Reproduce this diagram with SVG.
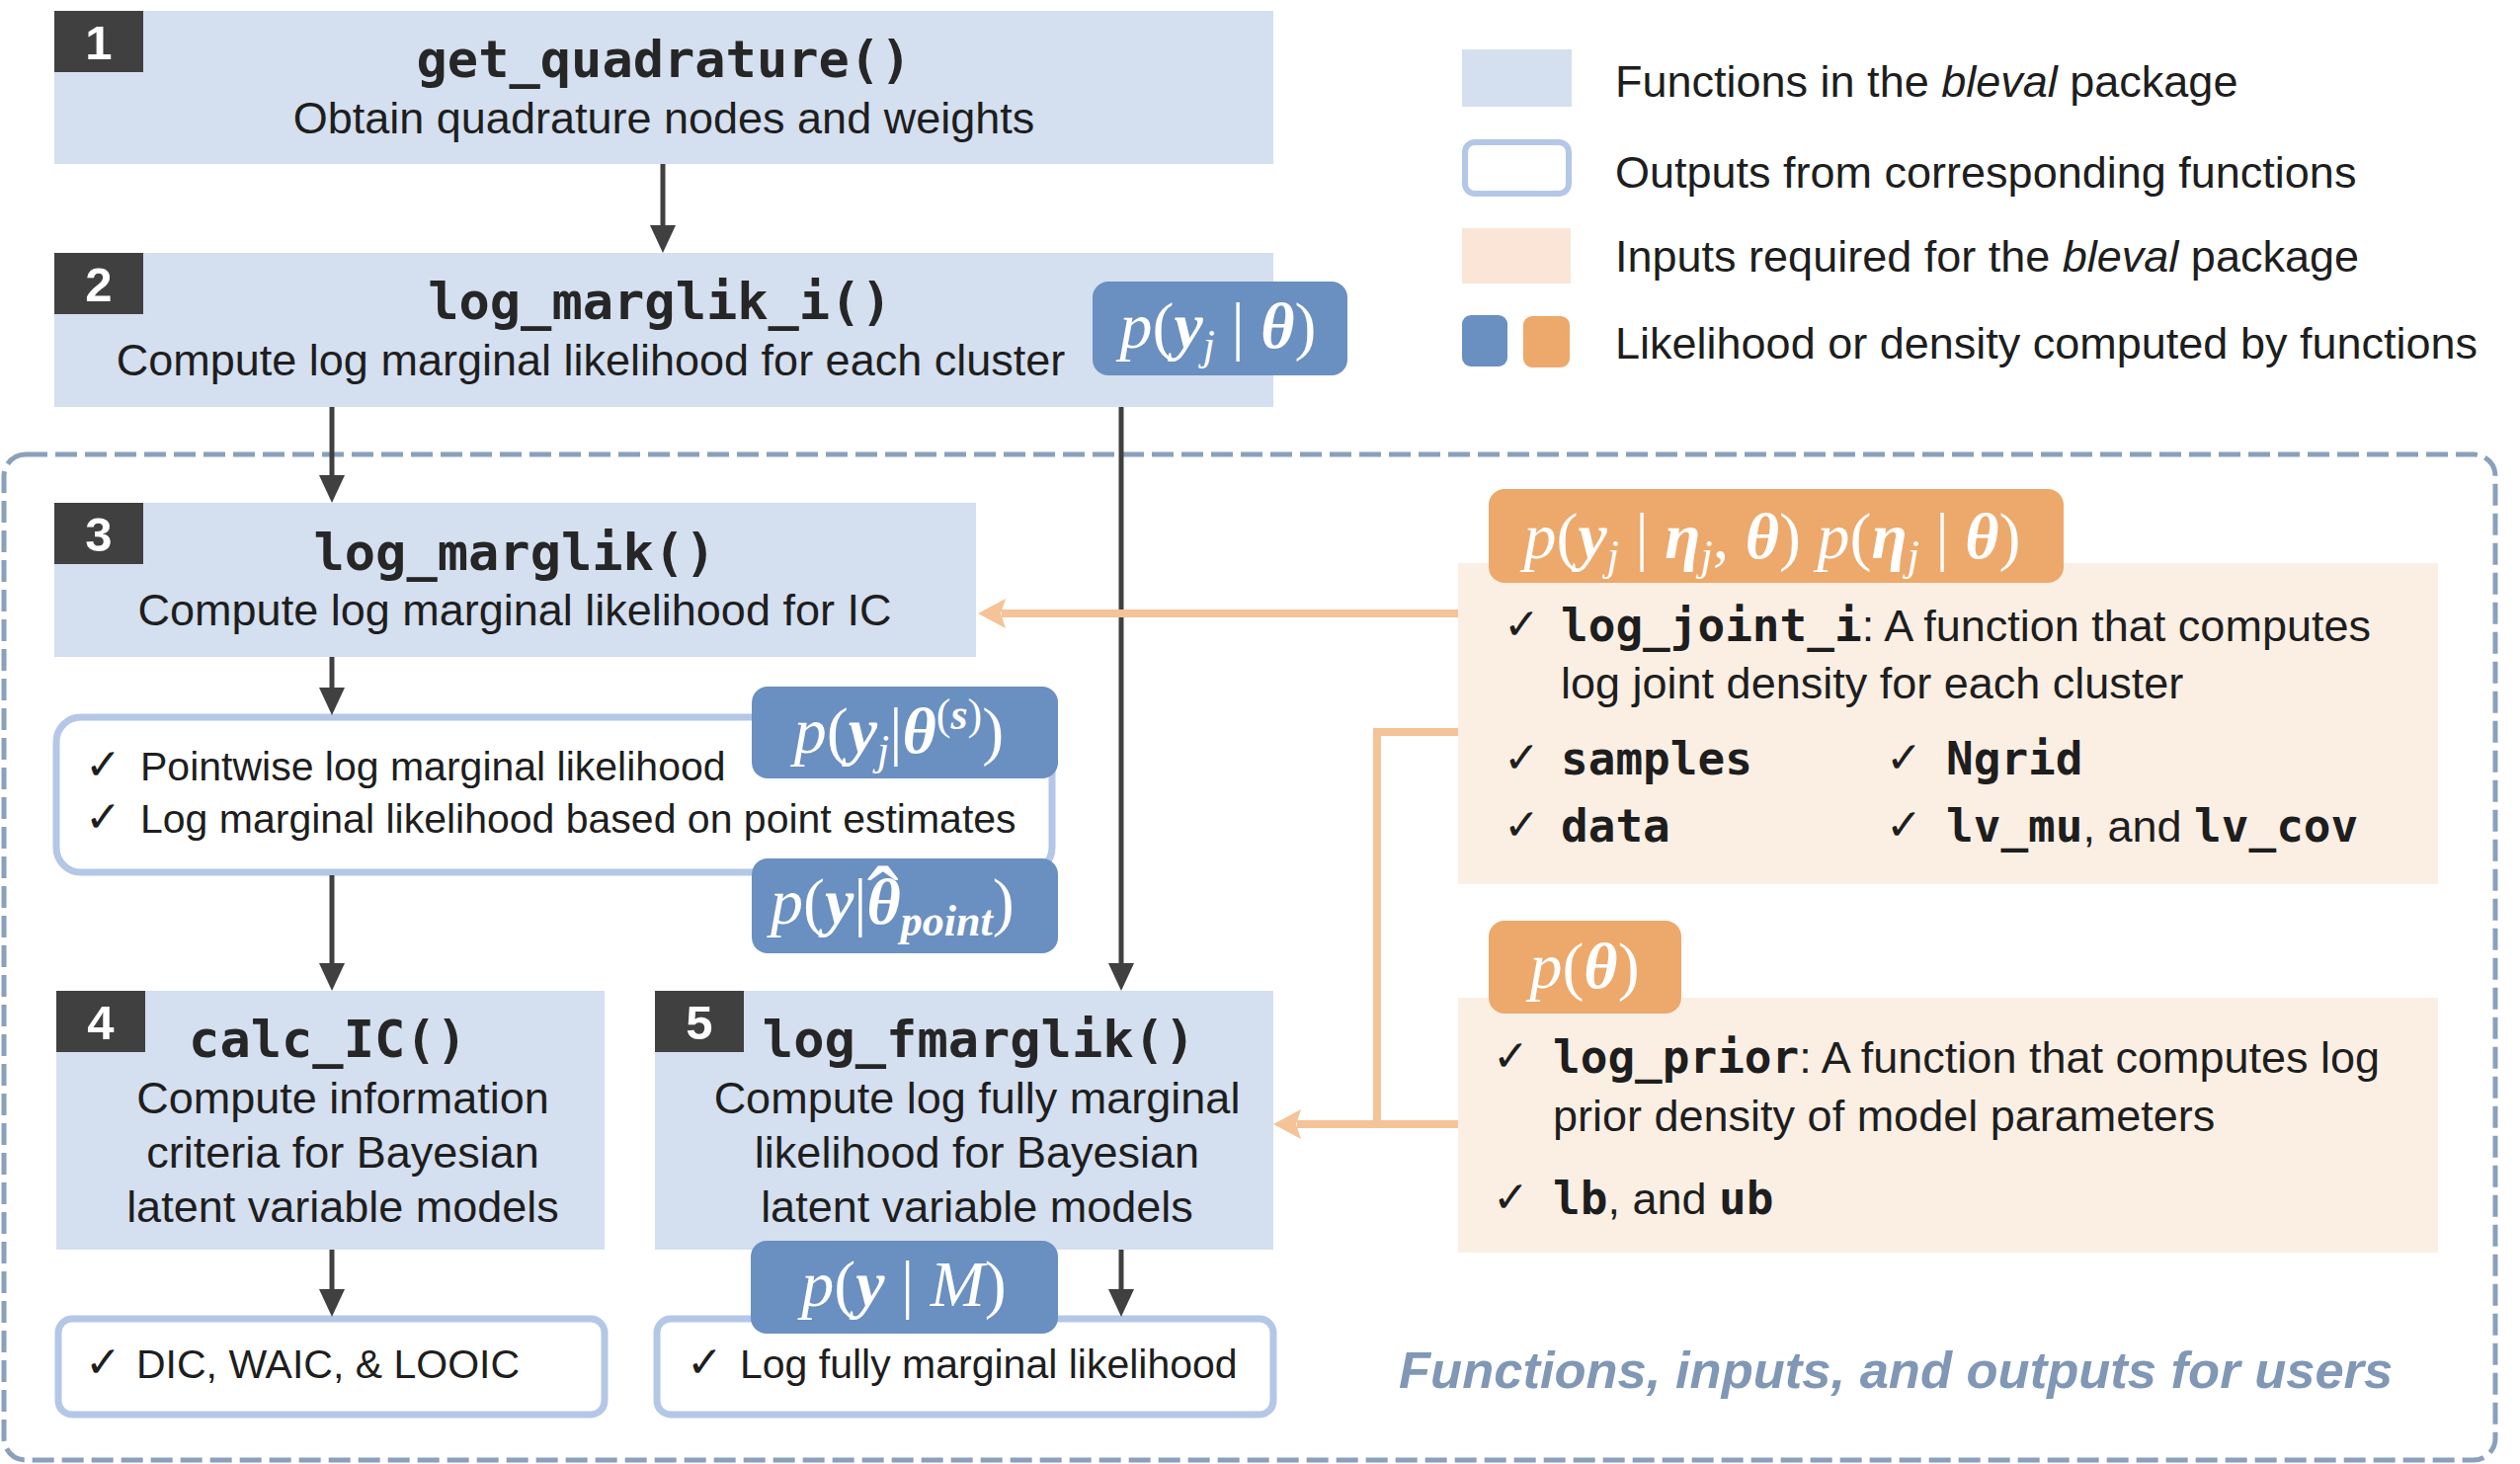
<svg xmlns="http://www.w3.org/2000/svg" width="2551" height="1482" viewBox="0 0 2551 1482">
<style>
.box{fill:#d4dfef}
.badge{fill:#404040}
.num{font-family:"Liberation Sans",Arial,sans-serif;font-weight:bold;font-size:49px;fill:#fff;text-anchor:middle}
.title{font-family:"DejaVu Sans Mono",monospace;font-weight:bold;font-size:52px;fill:#262626;text-anchor:middle}
.body{font-family:"Liberation Sans",Arial,sans-serif;font-size:45px;fill:#1e1e1e}
.small{font-size:41px}
.mid{text-anchor:middle}
.mono{font-family:"DejaVu Sans Mono",monospace;font-weight:bold;font-size:46px}
.ck{font-family:"DejaVu Sans",sans-serif;font-size:44px;fill:#1e1e1e}
.out{fill:#fff;stroke:#b4c7e7;stroke-width:7}
.bl{fill:#6a8fc1}
.or{fill:#eca96b}
.peach{fill:#fbefe4}
.math{font-family:"Liberation Serif","DejaVu Serif",serif;font-style:italic;font-size:66px;fill:#fff}
.bv{font-weight:bold}
.up{font-style:normal}
.sub{font-size:44px}
.hat{font-size:96px}
.conn{stroke:#404040;stroke-width:5;fill:none}
.oconn{stroke:#f4c398;stroke-width:8;fill:none}
.note{font-family:"Liberation Sans",Arial,sans-serif;font-style:italic;font-weight:bold;font-size:52.5px;fill:#8097b6}
</style>
<defs>
<marker id="ah" markerUnits="userSpaceOnUse" markerWidth="28" markerHeight="26" refX="4" refY="13" orient="auto">
<path d="M0,0 L28,13 L0,26 z" fill="#404040"/>
</marker>
<marker id="oh" markerUnits="userSpaceOnUse" markerWidth="28" markerHeight="30" refX="4" refY="15" orient="auto">
<path d="M0,0 L28,15 L0,30 L5,15 z" fill="#f4c398"/>
</marker>
</defs>
<rect width="2551" height="1482" fill="#fff"/>

<!-- users container -->
<g id="users-area">
<rect x="4" y="460" width="2522" height="1018" rx="22" fill="none" stroke="#8aa0bc" stroke-width="5" stroke-dasharray="22 8"/>
<text class="note" x="1416" y="1405">Functions, inputs, and outputs for users</text>
</g>

<!-- legend -->
<g id="legend">
<rect x="1480" y="50" width="111" height="58" class="box"/>
<text class="body" x="1635" y="98">Functions in the <tspan font-style="italic">bleval</tspan> package</text>
<rect x="1483" y="144" width="105" height="52" rx="10" fill="#fff" stroke="#b4c7e7" stroke-width="6"/>
<text class="body" x="1635" y="190">Outputs from corresponding functions</text>
<rect x="1480" y="231" width="110" height="56" fill="#fbe5d6"/>
<text class="body" x="1635" y="275">Inputs required for the <tspan font-style="italic">bleval</tspan> package</text>
<rect x="1480" y="319" width="46" height="52" rx="9" class="bl"/>
<rect x="1542" y="320" width="47" height="52" rx="9" class="or"/>
<text class="body" x="1635" y="363">Likelihood or density computed by functions</text>
</g>

<!-- function nodes -->
<g id="node1">
<rect x="55" y="11" width="1234" height="155" class="box"/>
<rect x="55" y="11" width="90" height="62" class="badge"/>
<text class="num" x="100" y="60">1</text>
<text class="title" x="672" y="78">get_quadrature()</text>
<text class="body mid" x="672" y="135">Obtain quadrature nodes and weights</text>
</g>

<g id="node2">
<rect x="55" y="256" width="1234" height="156" class="box"/>
<rect x="55" y="256" width="90" height="62" class="badge"/>
<text class="num" x="100" y="305">2</text>
<text class="title" x="668" y="323">log_marglik_i()</text>
<text class="body mid" x="598" y="380">Compute log marginal likelihood for each cluster</text>
</g>

<g id="node3">
<rect x="55" y="509" width="933" height="156" class="box"/>
<rect x="55" y="509" width="90" height="62" class="badge"/>
<text class="num" x="100" y="558">3</text>
<text class="title" x="521" y="577">log_marglik()</text>
<text class="body mid" x="521" y="633">Compute log marginal likelihood for IC</text>
</g>

<g id="node4">
<rect x="57" y="1003" width="555" height="262" class="box"/>
<rect x="57" y="1003" width="90" height="62" class="badge"/>
<text class="num" x="102" y="1052">4</text>
<text class="title" x="332" y="1070">calc_IC()</text>
<text class="body mid" x="347" y="1127">Compute information</text>
<text class="body mid" x="347" y="1182">criteria for Bayesian</text>
<text class="body mid" x="347" y="1237">latent variable models</text>
</g>

<g id="node5">
<rect x="663" y="1003" width="626" height="262" class="box"/>
<rect x="663" y="1003" width="90" height="62" class="badge"/>
<text class="num" x="708" y="1052">5</text>
<text class="title" x="991" y="1070">log_fmarglik()</text>
<text class="body mid" x="989" y="1127">Compute log fully marginal</text>
<text class="body mid" x="989" y="1182">likelihood for Bayesian</text>
<text class="body mid" x="989" y="1237">latent variable models</text>
</g>

<!-- output nodes -->
<g id="output3">
<rect x="57" y="726" width="1008" height="157" rx="25" class="out"/>
<text class="ck" x="86" y="789">✓</text>
<text class="body small" x="142" y="790">Pointwise log marginal likelihood</text>
<text class="ck" x="86" y="842">✓</text>
<text class="body small" x="142" y="843">Log marginal likelihood based on point estimates</text>
</g>

<g id="output4">
<rect x="59" y="1335" width="553" height="97" rx="14" class="out"/>
<text class="ck" x="86" y="1394">✓</text>
<text class="body small" x="138" y="1395">DIC, WAIC, &amp; LOOIC</text>
</g>

<g id="output5">
<rect x="665" y="1335" width="624" height="97" rx="14" class="out"/>
<text class="ck" x="695" y="1394">✓</text>
<text class="body small" x="749" y="1395">Log fully marginal likelihood</text>
</g>

<!-- input panels -->
<g id="input-joint">
<rect x="1476" y="570" width="992" height="325" class="peach"/>
<text class="ck" x="1522" y="647">✓</text>
<text class="body" x="1580" y="649"><tspan class="mono">log_joint_i</tspan>: A function that computes</text>
<text class="body" x="1580" y="707">log joint density for each cluster</text>
<text class="ck" x="1522" y="782">✓</text>
<text class="body" x="1580" y="784"><tspan class="mono">samples</tspan></text>
<text class="ck" x="1909" y="782">✓</text>
<text class="body" x="1970" y="784"><tspan class="mono">Ngrid</tspan></text>
<text class="ck" x="1522" y="850">✓</text>
<text class="body" x="1580" y="852"><tspan class="mono">data</tspan></text>
<text class="ck" x="1909" y="850">✓</text>
<text class="body" x="1970" y="852"><tspan class="mono">lv_mu</tspan>, and <tspan class="mono">lv_cov</tspan></text>
</g>

<g id="input-prior">
<rect x="1476" y="1010" width="992" height="258" class="peach"/>
<text class="ck" x="1511" y="1084">✓</text>
<text class="body" x="1572" y="1086"><tspan class="mono">log_prior</tspan>: A function that computes log</text>
<text class="body" x="1572" y="1145">prior density of model parameters</text>
<text class="ck" x="1511" y="1227">✓</text>
<text class="body" x="1572" y="1229"><tspan class="mono">lb</tspan>, and <tspan class="mono">ub</tspan></text>
</g>

<!-- connectors -->
<g id="connectors">
<line class="conn" x1="671" y1="166" x2="671" y2="232" marker-end="url(#ah)"/>
<line class="conn" x1="336" y1="412" x2="336" y2="485" marker-end="url(#ah)"/>
<line class="conn" x1="1135" y1="412" x2="1135" y2="979" marker-end="url(#ah)"/>
<line class="conn" x1="336" y1="665" x2="336" y2="700" marker-end="url(#ah)"/>
<line class="conn" x1="336" y1="886" x2="336" y2="979" marker-end="url(#ah)"/>
<line class="conn" x1="336" y1="1265" x2="336" y2="1309" marker-end="url(#ah)"/>
<line class="conn" x1="1135" y1="1265" x2="1135" y2="1309" marker-end="url(#ah)"/>
<line class="oconn" x1="1476" y1="621" x2="1014" y2="621" marker-end="url(#oh)"/>
<path class="oconn" d="M1476,741 H1394 V1138"/>
<line class="oconn" x1="1476" y1="1138" x2="1313" y2="1138" marker-end="url(#oh)"/>
</g>

<!-- likelihood / density badges -->
<g id="badge-lik-i">
<rect x="1106" y="285" width="258" height="95" rx="16" class="bl"/>
<text class="math mid" x="1233" y="352"><tspan>p</tspan><tspan class="up">(</tspan><tspan class="bv">y</tspan><tspan class="sub" dy="12">j</tspan><tspan class="up" dy="-12"> | </tspan><tspan class="bv">θ</tspan><tspan class="up">)</tspan></text>
</g>

<g id="badge-lik-s">
<rect x="761" y="695" width="310" height="93" rx="16" class="bl"/>
<text class="math mid" x="910" y="762"><tspan>p</tspan><tspan class="up">(</tspan><tspan class="bv">y</tspan><tspan class="sub" dy="12">j</tspan><tspan class="up" dy="-12">|</tspan><tspan class="bv">θ</tspan><tspan class="sub up" dy="-24">(</tspan><tspan class="sub bv">s</tspan><tspan class="sub up">)</tspan><tspan class="up" dy="24">)</tspan></text>
</g>

<g id="badge-lik-point">
<rect x="761" y="869" width="310" height="96" rx="16" class="bl"/>
<text class="math" x="780" y="935"><tspan>p</tspan><tspan class="up">(</tspan><tspan class="bv">y</tspan><tspan class="up">|</tspan><tspan class="bv">θ</tspan><tspan class="hat up" dx="-34" dy="8">ˆ</tspan><tspan class="sub bv" dx="2" dy="4">point</tspan><tspan class="up" dy="-12">)</tspan></text>
</g>

<g id="badge-fmarg">
<rect x="760" y="1256" width="311" height="94" rx="16" class="bl"/>
<text class="math mid" x="915" y="1322"><tspan>p</tspan><tspan class="up">(</tspan><tspan class="bv">y</tspan><tspan class="up"> | </tspan><tspan>M</tspan><tspan class="up">)</tspan></text>
</g>

<g id="badge-joint">
<rect x="1507" y="495" width="582" height="95" rx="16" class="or"/>
<text class="math mid" x="1794" y="565"><tspan>p</tspan><tspan class="up">(</tspan><tspan class="bv">y</tspan><tspan class="sub" dy="12">j</tspan><tspan class="up" dy="-12"> | </tspan><tspan class="bv">η</tspan><tspan class="sub" dy="12">j</tspan><tspan class="up" dy="-12">, </tspan><tspan class="bv">θ</tspan><tspan class="up">) </tspan><tspan>p</tspan><tspan class="up">(</tspan><tspan class="bv">η</tspan><tspan class="sub" dy="12">j</tspan><tspan class="up" dy="-12"> | </tspan><tspan class="bv">θ</tspan><tspan class="up">)</tspan></text>
</g>

<g id="badge-prior">
<rect x="1507" y="932" width="195" height="94" rx="16" class="or"/>
<text class="math mid" x="1604" y="1000"><tspan>p</tspan><tspan class="up">(</tspan><tspan class="bv">θ</tspan><tspan class="up">)</tspan></text>
</g>

</svg>
